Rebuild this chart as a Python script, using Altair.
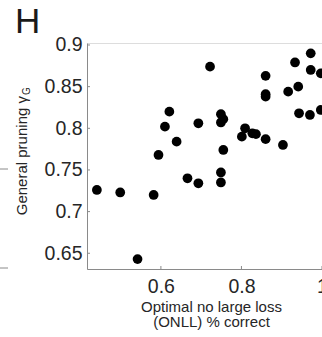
import altair as alt
import pandas as pd

# ONLL % correct (x) vs general pruning gamma_G (y)
onll = [0.722, 0.860, 0.972, 0.933, 0.972, 0.997, 0.860, 0.860, 0.916, 0.941,
        0.621, 0.749, 0.943, 0.970, 0.997, 0.755, 0.610, 0.693, 0.749, 0.801,
        0.809, 0.827, 0.836, 0.860, 0.903, 0.639, 0.594, 0.755, 0.666, 0.693,
        0.749, 0.749, 0.441, 0.499, 0.582, 0.542]
gamma_g = [0.874, 0.863, 0.890, 0.879, 0.870, 0.866, 0.841, 0.838, 0.844, 0.850,
           0.820, 0.817, 0.818, 0.816, 0.822, 0.811, 0.802, 0.806, 0.807, 0.790,
           0.800, 0.794, 0.793, 0.787, 0.780, 0.784, 0.768, 0.774, 0.740, 0.734,
           0.747, 0.735, 0.726, 0.723, 0.720, 0.643]

x_ticks = [0.6, 0.8, 1.0]
y_ticks = [0.65, 0.7, 0.75, 0.8, 0.85, 0.9]

FONT = "Liberation Sans"
TXT = "#262626"
AX = "#8a8a8a"

df = pd.DataFrame({"x": onll, "y": gamma_g})
xscale = alt.Scale(domain=[0.4165, 1.0], nice=False, zero=False)
yscale = alt.Scale(domain=[0.6311, 0.9024], nice=False, zero=False)

points = alt.Chart(df).mark_circle(size=95, color="black", opacity=1).encode(
    x=alt.X("x:Q", scale=xscale,
            axis=alt.Axis(values=x_ticks, format=".1~f", ticks=False, grid=False,
                          domainColor=AX, domainWidth=1,
                          labelFont=FONT, labelFontSize=19.5, labelColor=TXT,
                          labelPadding=8, labelFlush=False,
                          title=["Optimal no large loss", "(ONLL) % correct"],
                          titleFont=FONT, titleFontSize=15, titleFontWeight="normal",
                          titleColor=TXT, titleLineHeight=15.5,
                          titleX=124, titleY=42, titleBaseline="alphabetic",
                          titleAlign="center")),
    y=alt.Y("y:Q", scale=yscale,
            axis=alt.Axis(values=y_ticks, format=".2~f", ticks=False, grid=False,
                          domainColor=AX, domainWidth=1,
                          labelFont=FONT, labelFontSize=19.5, labelColor=TXT,
                          labelPadding=5, labelFlush=False, title=None)),
)

xt = alt.Chart(pd.DataFrame({"x": x_ticks})).mark_rule(color=AX, strokeWidth=1).encode(
    x=alt.X("x:Q", scale=xscale), y=alt.value(226), y2=alt.value(223))
yt = alt.Chart(pd.DataFrame({"y": y_ticks})).mark_rule(color=AX, strokeWidth=1).encode(
    y=alt.Y("y:Q", scale=yscale), x=alt.value(0), x2=alt.value(3))

one = pd.DataFrame({"t": [0]})
letter = alt.Chart(one).mark_text(text="H", font=FONT, fontSize=35, color="#1a1a1a",
                                  align="left", baseline="alphabetic").encode(
    x=alt.value(-72), y=alt.value(-9.7))
ytitle = alt.Chart(one).mark_text(text="General pruning γ", font=FONT, fontSize=15,
                                  color=TXT, angle=270, align="right",
                                  baseline="alphabetic").encode(
    x=alt.value(-60), y=alt.value(53))
ysub = alt.Chart(one).mark_text(text="G", font=FONT, fontSize=10, color=TXT, angle=270,
                                align="left", baseline="alphabetic").encode(
    x=alt.value(-57), y=alt.value(52))

# fragments of the neighbouring panel at the left edge
frag1 = alt.Chart(one).mark_rule(color=AX, strokeWidth=1).encode(
    x=alt.value(-87), x2=alt.value(-79), y=alt.value(126))
frag2 = alt.Chart(one).mark_rule(color=AX, strokeWidth=1).encode(
    x=alt.value(-87), x2=alt.value(-79), y=alt.value(225))

chart = alt.layer(points, xt, yt, letter, ytitle, ysub, frag1, frag2).properties(
    width=235, height=226,
    autosize=alt.AutoSizeParams(type="none"),
    padding={"left": 87, "top": 43, "right": 0, "bottom": 68},
).configure_view(stroke=None).configure(background="white")

chart.save("out.html", embed_options={"renderer": "svg", "actions": False})
